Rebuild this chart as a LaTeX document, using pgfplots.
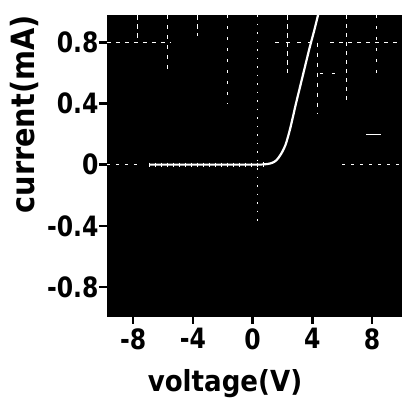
\documentclass[border=0pt]{standalone}
\usepackage{pgfplots}
\pgfplotsset{compat=1.18}
\usepackage{fontspec}
\setmainfont{DejaVu Sans}
\newfontfamily\tickf{DejaVu Sans}[FakeStretch=0.84]
\newfontfamily\labf{DejaVu Sans}[FakeStretch=0.9]
\begin{document}
\begin{tikzpicture}
\path[use as bounding box] (0,0) rectangle (402pt,399pt);
\begin{axis}[
  at={(107pt,83pt)}, anchor=south west,
  width=295pt, height=301pt, scale only axis,
  xmin=-9.75, xmax=10, ymin=-0.99, ymax=0.98,
  axis background/.style={fill=black},
  axis line style={black},
  xtick={-8,-4,0,4,8}, xticklabels={-8,-4,0,4,8},
  ytick={-0.8,-0.4,0,0.4,0.8}, yticklabels={-0.8,-0.4,0,0.4,0.8},
  xtick pos=bottom, ytick pos=left,
  tick align=outside, major tick length=8pt,
  every tick/.style={black, line width=2.5pt},
  tick label style={font=\tickf\bfseries\fontsize{28}{30}\selectfont},
  xticklabel style={yshift=-1pt},
  yticklabel style={xshift=3pt},
  xlabel={voltage(V)}, ylabel={current(mA)},
  xlabel style={at={(axis description cs:0.40,-0.225)}, anchor=center, font=\labf\bfseries\fontsize{29}{30}\selectfont},
  ylabel style={at={(axis description cs:-0.28,0.67)}, anchor=center, font=\labf\bfseries\fontsize{32}{34}\selectfont},
]
% faint oscilloscope graticule fragments
\addplot[white, line width=0.7pt, dash pattern=on 4pt off 5pt, forget plot] coordinates {(-9.75,0.8) (-5.5,0.8)};
\addplot[white, line width=0.7pt, dash pattern=on 4pt off 7pt, forget plot] coordinates {(1.5,0.8) (4.2,0.8)};
\addplot[white, line width=0.7pt, dash pattern=on 4pt off 5pt, forget plot] coordinates {(5.2,0.8) (10,0.8)};
\addplot[white, line width=0.7pt, dash pattern=on 3pt off 6pt, forget plot] coordinates {(-9.75,0) (-7.5,0)};
\addplot[white, line width=0.7pt, dash pattern=on 3pt off 6pt, forget plot] coordinates {(6,0) (10,0)};
\addplot[white, line width=0.7pt, dash pattern=on 3pt off 9pt, forget plot] coordinates {(4.5,0.6) (5.5,0.6)};
\addplot[white, line width=0.7pt, forget plot] coordinates {(7.6,0.2) (8.6,0.2)};
\addplot[white, line width=0.7pt, dash pattern=on 1.5pt off 7pt, forget plot] coordinates {(0.3,0.98) (0.3,-0.38)};
\addplot[white, line width=0.7pt, dash pattern=on 4pt off 6pt, forget plot] coordinates {(-5.7,0.98) (-5.7,0.6)};
\addplot[white, line width=0.7pt, dash pattern=on 5pt off 4pt, forget plot] coordinates {(-7.7,0.98) (-7.7,0.82)};
\addplot[white, line width=0.7pt, dash pattern=on 5pt off 4pt, forget plot] coordinates {(-3.7,0.98) (-3.7,0.84)};
\addplot[white, line width=0.7pt, dash pattern=on 3pt off 8pt, forget plot] coordinates {(-1.7,0.98) (-1.7,0.4)};
\addplot[white, line width=0.7pt, dash pattern=on 5pt off 4pt, forget plot] coordinates {(2.3,0.98) (2.3,0.6)};
\addplot[white, line width=0.7pt, dash pattern=on 4pt off 6pt, forget plot] coordinates {(4.3,0.8) (4.3,0.33)};
\addplot[white, line width=0.7pt, dash pattern=on 4pt off 5pt, forget plot] coordinates {(6.3,0.98) (6.3,0.4)};
\addplot[white, line width=0.7pt, dash pattern=on 3pt off 8pt, forget plot] coordinates {(8.3,0.98) (8.3,0.55)};
% flat reverse branch with trace ticks
\addplot[white, line width=2pt, mark=|, mark size=2.2pt, mark options={line width=0.8pt}] coordinates {
(-6.9,0) (-6.5,0) (-6.1,0) (-5.7,0) (-5.3,0) (-4.9,0) (-4.5,0) (-4.1,0) (-3.7,0) (-3.3,0) (-2.9,0) (-2.5,0) (-2.1,0) (-1.7,0) (-1.3,0) (-0.9,0) (-0.5,0) (-0.1,0) (0.3,0) (0.7,0.002)};
% forward branch
\addplot[white, line width=2.2pt, smooth] coordinates {
(0.7,0.002) (1.0,0.005) (1.3,0.012) (1.6,0.03) (1.9,0.07) (2.2,0.13) (2.47,0.22) (2.69,0.31) (2.9,0.40) (3.35,0.58) (3.8,0.76) (4.1,0.87) (4.38,0.98)};
\end{axis}
\end{tikzpicture}
\end{document}
